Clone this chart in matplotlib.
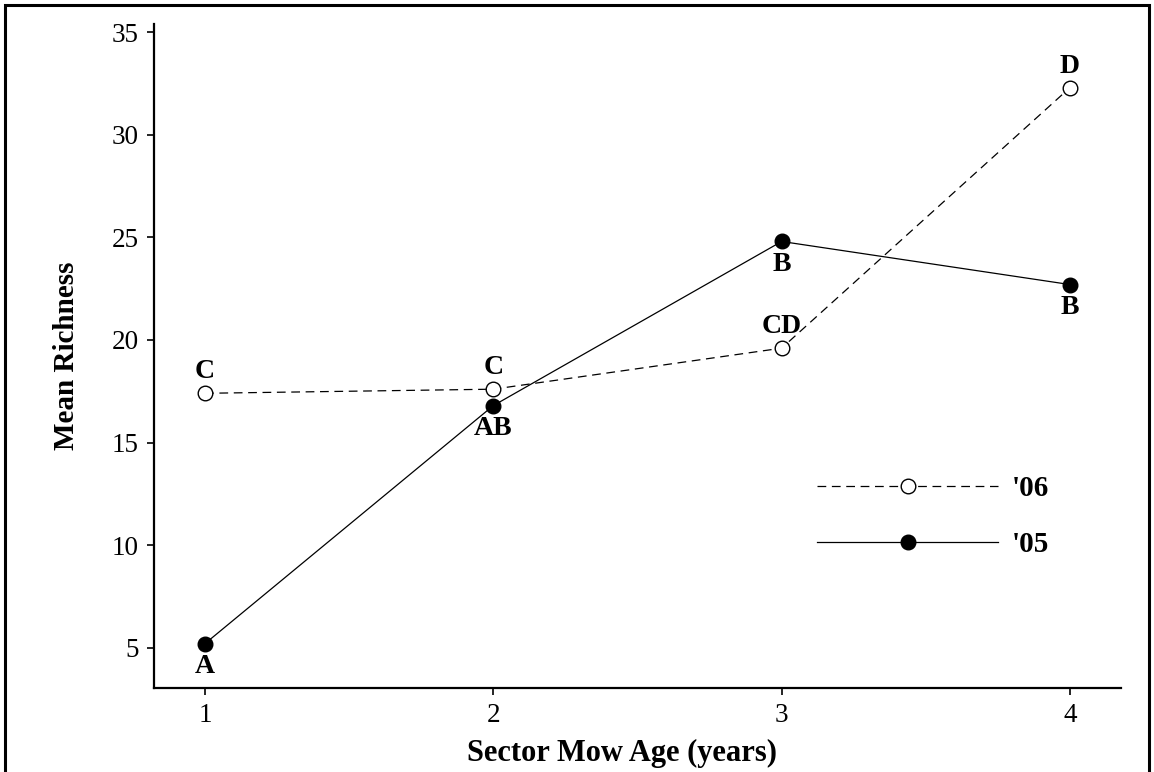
import matplotlib
matplotlib.use("Agg")
import matplotlib.pyplot as plt
from matplotlib.patches import Rectangle

plt.rcParams['font.family'] = ['Liberation Serif', 'DejaVu Serif']

# Mean species richness by sector mow age
mow_age = [1, 2, 3, 4]
richness_06 = [17.4, 17.6, 19.6, 32.3]
richness_05 = [5.2, 16.8, 24.8, 22.7]
letters_06 = ['C', 'C', 'CD', 'D']
letters_05 = ['A', 'AB', 'B', 'B']
xtick_vals = [1, 2, 3, 4]
ytick_vals = [5, 10, 15, 20, 25, 30, 35]

W, H, DPI = 1154, 772, 100
fig = plt.figure(figsize=(W / DPI, H / DPI), dpi=DPI)
ax = fig.add_axes([153.7 / W, 1 - 687.7 / H, (1121 - 153.7) / W, (687.7 - 24) / H])

# outer frame around the figure
fig.patches.append(Rectangle((5 / W, -0.05), (1149 - 5) / W, 1.05 - 5 / H,
                             transform=fig.transFigure, fill=False,
                             edgecolor='black', linewidth=2.2, clip_on=False))

ax.plot(mow_age, richness_06, linestyle=(0, (7, 4.5)), color='black', linewidth=0.9,
        marker='o', markersize=10.5, markerfacecolor='white', markeredgecolor='black',
        markeredgewidth=1.0, label="'06", zorder=3)
ax.plot(mow_age, richness_05, linestyle='-', color='black', linewidth=0.9,
        marker='o', markersize=10.5, markerfacecolor='black', markeredgecolor='black',
        label="'05", zorder=4)

for x, y, s in zip(mow_age, richness_06, letters_06):
    ax.annotate(s, (x, y), xytext=(0, 6.5), textcoords='offset points',
                ha='center', va='bottom', fontsize=20, fontweight='bold')
for x, y, s in zip(mow_age, richness_05, letters_05):
    ax.annotate(s, (x, y), xytext=(0, -7.5), textcoords='offset points',
                ha='center', va='top', fontsize=20, fontweight='bold')

ax.set_xlim(0.822, 4.177)
ax.set_ylim(3.05, 35.4)
ax.set_xticks(xtick_vals)
ax.set_yticks(ytick_vals)
ax.tick_params(axis='both', direction='out', length=5, width=1.2, labelsize=19.5,
               pad=6)
for side in ['top', 'right']:
    ax.spines[side].set_visible(False)
for side in ['left', 'bottom']:
    ax.spines[side].set_linewidth(1.6)

ax.set_xlabel('Sector Mow Age (years)', fontsize=22, fontweight='bold')
ax.set_ylabel('Mean Richness', fontsize=21, fontweight='bold')
ax.xaxis.set_label_coords(0.484, -0.077)
ax.yaxis.set_label_coords(-0.076, 0.5)

leg = ax.legend(loc='center left', bbox_to_anchor=(0.659, 0.258), frameon=False,
                prop={'weight': 'bold', 'size': 21},
                handlelength=6.2, handletextpad=0.45, labelspacing=1.0)

fig.savefig('out.png', dpi=DPI, facecolor='white')
